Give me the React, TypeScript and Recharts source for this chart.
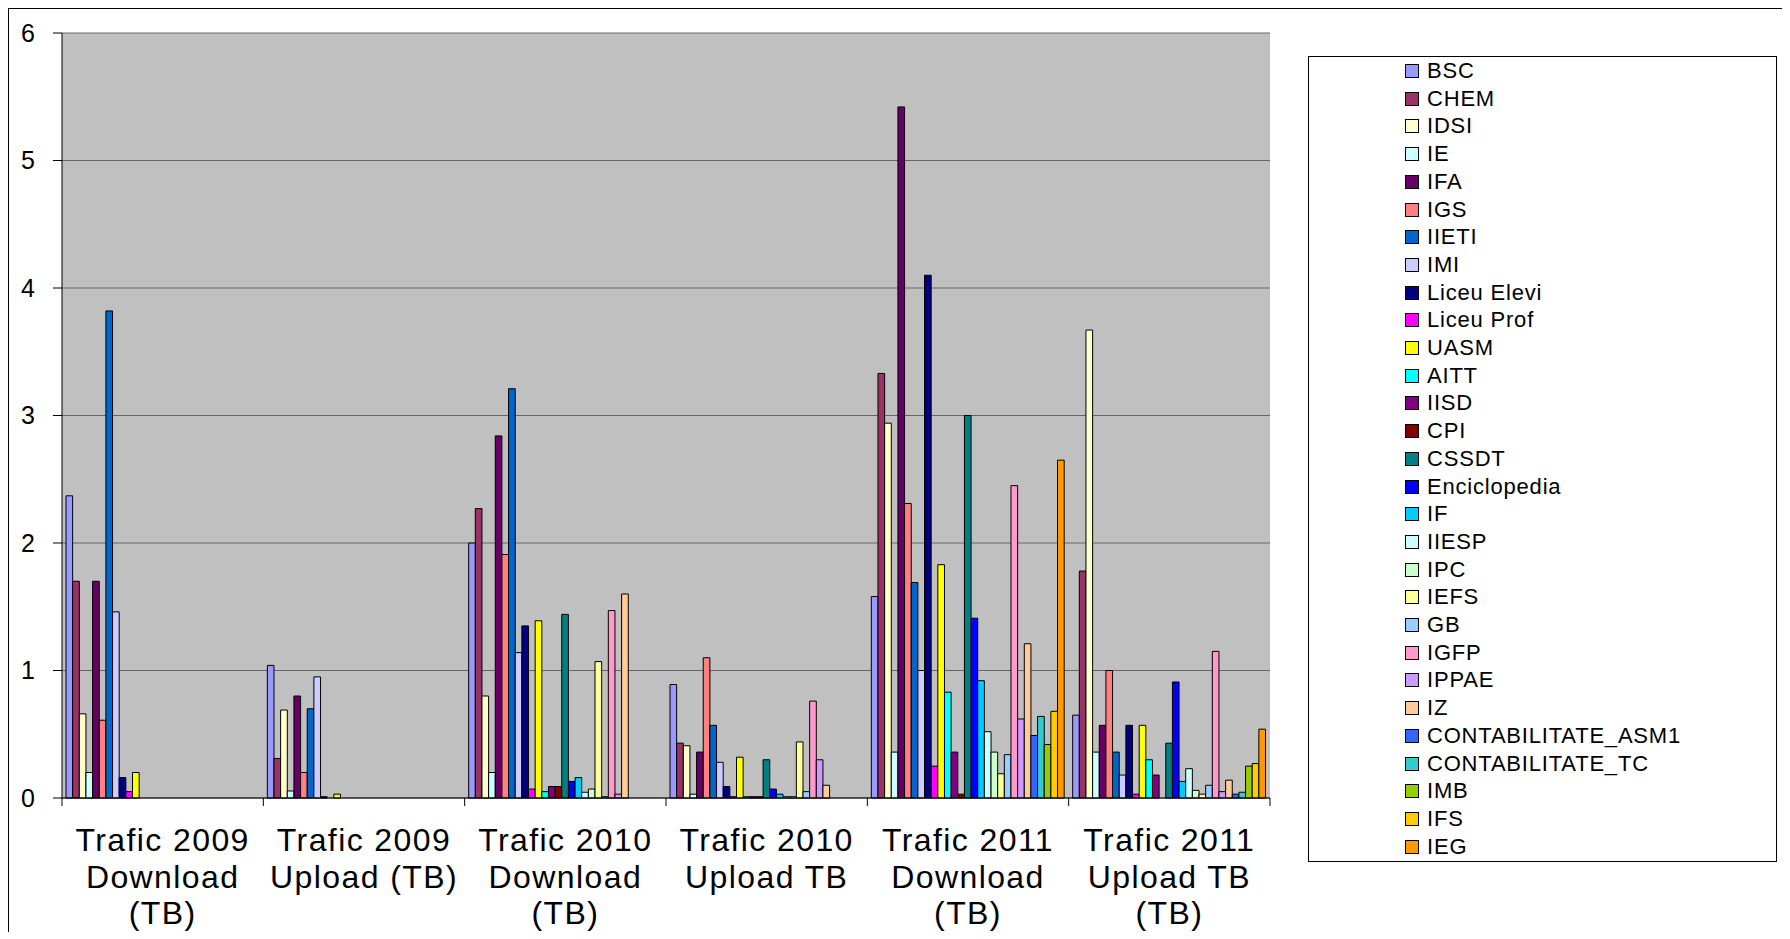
import { BarChart, Bar, XAxis, YAxis, CartesianGrid } from 'recharts';

const CATEGORIES = [
    'Trafic 2009 Download (TB)',
    'Trafic 2009 Upload (TB)',
    'Trafic 2010 Download (TB)',
    'Trafic 2010 Upload TB',
    'Trafic 2011 Download (TB)',
    'Trafic 2011 Upload TB (TB)',
];

const CATEGORY_LINES = [
    ['Trafic 2009', 'Download', '(TB)'],
    ['Trafic 2009', 'Upload (TB)'],
    ['Trafic 2010', 'Download', '(TB)'],
    ['Trafic 2010', 'Upload TB'],
    ['Trafic 2011', 'Download', '(TB)'],
    ['Trafic 2011', 'Upload TB', '(TB)'],
];

const SERIES = [
    'BSC', 'CHEM', 'IDSI', 'IE', 'IFA', 'IGS', 'IIETI', 'IMI', 'Liceu Elevi', 'Liceu Prof',
    'UASM', 'AITT', 'IISD', 'CPI', 'CSSDT', 'Enciclopedia', 'IF', 'IIESP', 'IPC', 'IEFS',
    'GB', 'IGFP', 'IPPAE', 'IZ', 'CONTABILITATE_ASM1', 'CONTABILITATE_TC', 'IMB', 'IFS', 'IEG',
];

const COLORS = [
    '#9999FF', '#993366', '#FFFFCC', '#CCFFFF', '#660066', '#FF8080', '#0066CC', '#CCCCFF', '#000080', '#FF00FF',
    '#FFFF00', '#00FFFF', '#800080', '#800000', '#008080', '#0000FF', '#00CCFF', '#CCFFFF', '#CCFFCC', '#FFFF99',
    '#99CCFF', '#FF99CC', '#CC99FF', '#FFCC99', '#3366FF', '#33CCCC', '#99CC00', '#FFCC00', '#FF9900',
];

// one array per category, values in SERIES order
const DOWNLOAD_2009 = [2.37, 1.7, 0.66, 0.2, 1.7, 0.61, 3.82, 1.46, 0.16, 0.05, 0.2, 0, 0, 0, 0, 0, 0, 0, 0, 0, 0, 0, 0, 0, 0, 0, 0, 0, 0];
const UPLOAD_2009 = [1.04, 0.31, 0.69, 0.055, 0.8, 0.2, 0.7, 0.95, 0.01, 0, 0.03, 0, 0, 0, 0, 0, 0, 0, 0, 0, 0, 0, 0, 0, 0, 0, 0, 0, 0];
const DOWNLOAD_2010 = [2.0, 2.27, 0.8, 0.2, 2.84, 1.91, 3.21, 1.14, 1.35, 0.07, 1.39, 0.05, 0.09, 0.09, 1.44, 0.13, 0.16, 0.045, 0.07, 1.07, 0.01, 1.47, 0.03, 1.6, 0, 0, 0, 0, 0];
const UPLOAD_2010 = [0.89, 0.43, 0.41, 0.03, 0.36, 1.1, 0.57, 0.28, 0.09, 0.01, 0.32, 0.01, 0.01, 0.01, 0.3, 0.07, 0.03, 0.01, 0.01, 0.44, 0.05, 0.76, 0.3, 0.1, 0, 0, 0, 0, 0];
const DOWNLOAD_2011 = [1.58, 3.33, 2.94, 0.36, 5.42, 2.31, 1.69, 1.0, 4.1, 0.25, 1.83, 0.83, 0.36, 0.03, 3.0, 1.41, 0.92, 0.52, 0.36, 0.19, 0.34, 2.45, 0.62, 1.21, 0.49, 0.64, 0.42, 0.68, 2.65];
const UPLOAD_2011 = [0.65, 1.78, 3.67, 0.36, 0.57, 1.0, 0.36, 0.18, 0.57, 0.03, 0.57, 0.3, 0.18, 0, 0.43, 0.91, 0.13, 0.23, 0.06, 0.03, 0.1, 1.15, 0.05, 0.14, 0.03, 0.045, 0.25, 0.27, 0.54];

const VALUES = [DOWNLOAD_2009, UPLOAD_2009, DOWNLOAD_2010, UPLOAD_2010, DOWNLOAD_2011, UPLOAD_2011];
const Y_TICKS = [0, 1, 2, 3, 4, 5, 6];

const FONT = '"Liberation Sans", Arial, sans-serif';
const WIDTH = 1774;
const HEIGHT = 923;
const PLOT_LEFT = 53;
const PLOT_RIGHT = 1261;
const BAND = (PLOT_RIGHT - PLOT_LEFT) / CATEGORIES.length;

const data = CATEGORIES.map((name, ci) => {
    const row: Record<string, string | number> = { name };
    SERIES.forEach((s, si) => {
        row[s] = VALUES[ci][si];
    });
    return row;
});

function CategoryTick({ x, y, payload, index }: { x: number; y: number; payload: { value: string }; index: number }) {
    const i = CATEGORIES.indexOf(payload.value);
    const lines = CATEGORY_LINES[i] ?? [payload.value];
    return (
        <g>
            <line x1={x - BAND / 2} x2={x - BAND / 2} y1={y} y2={y + 8} stroke="#000" />
            {index === CATEGORIES.length - 1 && (
                <line x1={x + BAND / 2} x2={x + BAND / 2} y1={y} y2={y + 8} stroke="#000" />
            )}
            <text x={x} y={y + 53} textAnchor="middle" fontSize={32} letterSpacing={1.4} fill="#000" fontFamily={FONT}>
                {lines.map((l, k) => (
                    <tspan key={k} x={x} dy={k === 0 ? 0 : 36.5}>
                        {l}
                    </tspan>
                ))}
            </text>
        </g>
    );
}

function LegendBox() {
    return (
        <div
            style={{
                position: 'absolute',
                left: 1299,
                top: 47,
                width: 467,
                height: 804,
                border: '1px solid #000',
                background: '#fff',
                fontFamily: FONT,
            }}
        >
            {SERIES.map((s, i) => (
                <div
                    key={s}
                    style={{
                        position: 'absolute',
                        left: 96,
                        top: 14 + i * 27.7 - 13,
                        height: 26,
                        display: 'flex',
                        alignItems: 'center',
                        whiteSpace: 'nowrap',
                    }}
                >
                    <span
                        style={{
                            width: 12,
                            height: 12,
                            border: '1px solid #000',
                            background: COLORS[i],
                            marginRight: 8,
                        }}
                    />
                    <span style={{ fontSize: 22, letterSpacing: 0.8, color: '#000' }}>{s}</span>
                </div>
            ))}
        </div>
    );
}

export default function App() {
    return (
        <div
            style={{
                position: 'relative',
                width: WIDTH,
                height: HEIGHT,
                borderTop: '1px solid #000',
                borderLeft: '1px solid #000',
                background: '#fff',
            }}
        >
            <BarChart
                width={WIDTH}
                height={HEIGHT}
                data={data}
                margin={{ top: 24, right: WIDTH - PLOT_RIGHT, left: 8, bottom: 14 }}
                barSize={6.65}
                barGap={0}
            >
                <CartesianGrid vertical={false} stroke="#666" fill="#C0C0C0" />
                <XAxis
                    dataKey="name"
                    height={120}
                    axisLine={{ stroke: '#000' }}
                    tickLine={false}
                    tickSize={0}
                    tickMargin={0}
                    interval={0}
                    tick={CategoryTick as any}
                />
                <YAxis
                    width={45}
                    domain={[0, 6]}
                    ticks={Y_TICKS}
                    interval={0}
                    axisLine={{ stroke: '#000' }}
                    tickLine={{ stroke: '#000' }}
                    tickSize={9}
                    tickMargin={18}
                    tick={{ fill: '#000', fontSize: 25, fontFamily: FONT }}
                />
                {SERIES.map((s, i) => (
                    <Bar key={s} dataKey={s} fill={COLORS[i]} stroke="#000" strokeWidth={1} isAnimationActive={false} />
                ))}
            </BarChart>
            <LegendBox />
        </div>
    );
}
